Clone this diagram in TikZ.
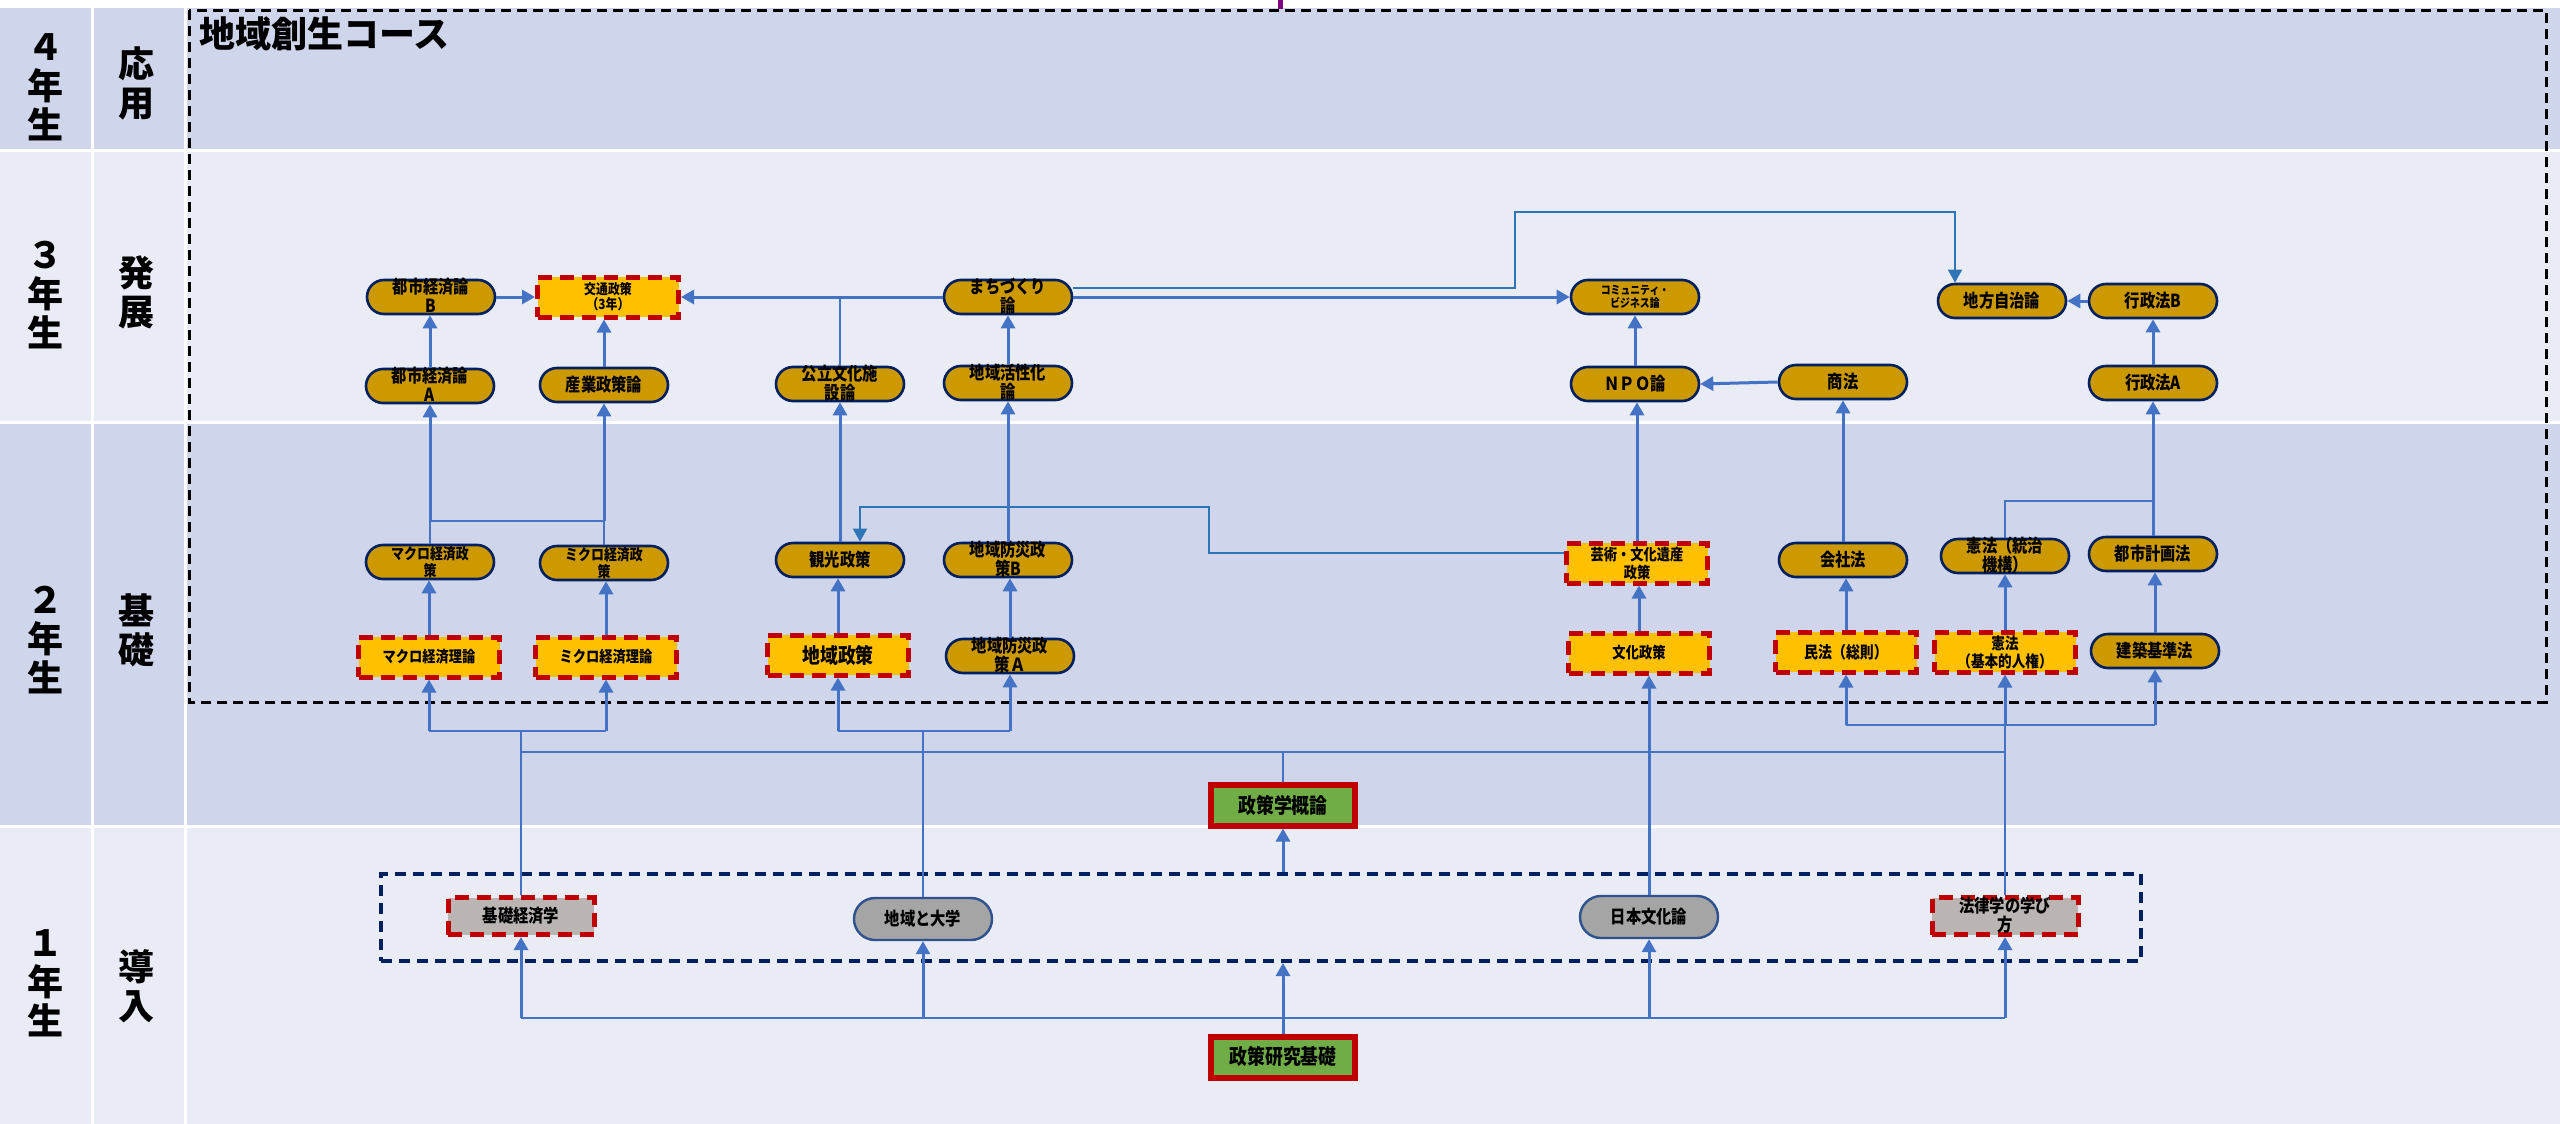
\documentclass[tikz,border=0pt]{standalone}
\usepackage{fontspec}
\usetikzlibrary{arrows.meta}
\newfontfamily\jp{Noto Sans CJK JP}[FakeStretch=0.85]
\newfontfamily\jph{Noto Sans CJK JP}
\newcommand\jpsize[2]{\jp\bfseries\fontsize{#1}{#2}\selectfont}
\definecolor{rowdark}{HTML}{CFD5EA}
\definecolor{rowlight}{HTML}{E9EBF5}
\definecolor{coursegold}{HTML}{CC9900}
\definecolor{navy}{HTML}{002060}
\definecolor{yel}{HTML}{FFC000}
\definecolor{dred}{HTML}{C00000}
\definecolor{lblue}{HTML}{4472C4}
\definecolor{mblue}{HTML}{2E75B6}
\definecolor{grayA}{HTML}{A5A5A5}
\definecolor{grayB}{HTML}{BAB4B2}
\definecolor{pilledge}{HTML}{2F528F}
\definecolor{leaf}{HTML}{70AD47}
\tikzset{
  yearlbl/.style={align=center, inner sep=0pt, font=\jph\bfseries\fontsize{18}{19.5}\selectfont},
  pill/.style={draw=navy, line width=1.3pt, fill=coursegold, rounded corners=8.5pt,
    minimum width=64pt, minimum height=17pt, inner sep=0pt, align=center, font=\jpsize{9}{9.5}},
  must/.style={draw=dred, line width=2.5pt, dash pattern=on 7pt off 4pt, fill=yel,
    minimum width=70.5pt, minimum height=20pt, inner sep=0pt, align=center, font=\jpsize{7.8}{9}},
  mustgray/.style={must, fill=grayB, minimum width=73pt, minimum height=18.5pt, font=\jpsize{9}{9.5}},
  graypill/.style={draw=pilledge, line width=1.2pt, fill=grayA, rounded corners=10.5pt,
    minimum width=69pt, minimum height=21pt, inner sep=0pt, font=\jpsize{9}{9.5}},
  core/.style={draw=dred, line width=3pt, fill=leaf, minimum width=72pt, minimum height=20.5pt,
    inner sep=0pt, font=\jpsize{10.5}{11}},
  dbl/.style={text height=#1, text depth=0pt},
  dbl/.default=15pt,
  arr/.style={draw=lblue, line width=1.5pt, -{Triangle[width=7pt,length=6.5pt]}},
  feed/.style={draw=lblue, line width=0.75pt},
  bus/.style={draw=lblue, line width=1pt},
  link/.style={draw=mblue, line width=0.9pt, -{Triangle[width=7pt,length=6.5pt]}}
}
\begin{document}
\begin{tikzpicture}[x=0.5pt,y=-0.5pt]
\useasboundingbox (0,0) rectangle (2560,1124);
%table
\fill[white] (0,0) rectangle (2560,1124);
\foreach \ya/\yb/\rc in {8/149/rowdark,152/421/rowlight,424/825/rowdark,828/1124/rowlight}{
  \fill[\rc] (0,\ya) rectangle (91,\yb);
  \fill[\rc] (94,\ya) rectangle (184,\yb);
  \fill[\rc] (187,\ya) rectangle (2560,\yb);
}
\node[yearlbl] (y4) at (45,87) {４\\年\\生};
\node[yearlbl] (y3) at (45,295) {３\\年\\生};
\node[yearlbl] (y2) at (45,640) {２\\年\\生};
\node[yearlbl] (y1) at (45,983) {１\\年\\生};
\node[yearlbl] (s4) at (136,83) {応\\用};
\node[yearlbl] (s3) at (136,292) {発\\展};
\node[yearlbl] (s2) at (136,630) {基\\礎};
\node[yearlbl] (s1) at (136,986) {導\\入};
%course frame
\draw[black, line width=1.5pt, dash pattern=on 5pt off 3pt] (189,10) rectangle (2546,702);
\node[anchor=west, inner sep=0pt, font=\jph\bfseries\fontsize{18}{20}\selectfont] (course) at (199,34) {地域創生コース};
\draw[violet, line width=2.5pt] (1280,0) -- (1280,9);
%intro frame
\node[draw=navy, line width=2pt, dash pattern=on 5.5pt off 3.5pt, minimum width=880pt,
  minimum height=43.5pt, inner sep=0pt] (intro) at (1261,917.5) {};

%third year
\node[pill, dbl] (tokB) at (431,297) {都市経済論\\B};
\node[must, dbl=12.5pt, font=\jpsize{7}{7.5}] (koutsu) at (608,297) {交通政策\\（3年）};
\node[pill, dbl] (machi) at (1008,297) {まちづくり\\論};
\node[pill, dbl=10.5pt, font=\jpsize{5.8}{6.5}] (comm) at (1635,297) {コミュニティ・\\ビジネス論};
\node[pill] (chihou) at (2002,301) {地方自治論};
\node[pill] (gyoseiB) at (2153,301) {行政法B};
\node[pill, dbl] (tokA) at (430,386) {都市経済論\\A};
\node[pill] (sangyo) at (604,385) {産業政策論};
\node[pill, dbl] (kouritsu) at (840,384) {公立文化施\\設論};
\node[pill, dbl] (kassei) at (1008,383) {地域活性化\\論};
\node[pill] (npo) at (1635,384) {ＮＰＯ論};
\node[pill] (shouhou) at (1843,382) {商法};
\node[pill] (gyoseiA) at (2153,383) {行政法A};

%second year
\node[pill, dbl=14.2pt, font=\jpsize{7.6}{8.5}] (macroP) at (430,562) {マクロ経済政\\策};
\node[pill, dbl=14.2pt, font=\jpsize{7.6}{8.5}] (microP) at (604,563) {ミクロ経済政\\策};
\node[pill] (kanko) at (840,560) {観光政策};
\node[pill, dbl] (bousaiB) at (1008,560) {地域防災政\\策B};
\node[must, dbl] (geijutsu) at (1637,563) {芸術・文化遺産\\政策};
\node[pill] (kaisha) at (1843,560) {会社法};
\node[pill, dbl] (kenpoT) at (2005,556) {憲法（統治\\機構）};
\node[pill] (toshikei) at (2153,554) {都市計画法};
\node[must] (macroT) at (429,657) {マクロ経済理論};
\node[must] (microT) at (606,657) {ミクロ経済理論};
\node[must, font=\jpsize{10.5}{11}] (chiikiS) at (838,655) {地域政策};
\node[pill, dbl] (bousaiA) at (1010,656) {地域防災政\\策Ａ};
\node[must] (bunka) at (1639,653) {文化政策};
\node[must, font=\jpsize{8.2}{9}] (minpo) at (1846,652) {民法（総則）};
\node[must, dbl, font=\jpsize{8}{9}] (kenpoK) at (2005,652) {憲法\\（基本的人権）};
\node[pill] (kenchiku) at (2155,651) {建築基準法};
\node[core] (gairon) at (1283,805) {政策学概論};

%first year
\node[mustgray] (kiso) at (521,916) {基礎経済学};
\node[graypill] (daigaku) at (923,919) {地域と大学};
\node[graypill] (nihon) at (1649,917) {日本文化論};
\node[mustgray, dbl] (houritsu) at (2005,916) {法律学の学び\\方};
\node[core] (kenkyu) at (1283,1057) {政策研究基礎};

%junctions
\coordinate (low) at (1283,1018);
\coordinate (mid) at (1283,752);
\coordinate (brA) at (521,731);
\coordinate (brB) at (923,731);
\coordinate (brC) at (2005,725);
\coordinate (brD) at (430,521);
\coordinate (kt) at (2153,501);
\coordinate (tk) at (1209,507);
\coordinate (kink) at (1515,212);

%first year links
\draw[arr] (kenkyu.north) -- (kenkyu.north |- intro.south);
\draw[bus] (kiso.south |- low) -- (houritsu.south |- low);
\foreach \n in {kiso,daigaku,nihon,houritsu}
  \draw[arr] (\n.south |- low) -- (\n.south);
\draw[arr] (gairon.south |- intro.north) -- (gairon.south);
\draw[feed] (gairon.north) -- (mid);
\draw[bus] (kiso.north |- mid) -- (houritsu.north |- mid);

%into second year
\draw[feed] (kiso.north) -- (brA);
\draw[bus] (macroT.south |- brA) -- (microT.south |- brA);
\draw[feed] (daigaku.north) -- (brB);
\draw[bus] (chiikiS.south |- brB) -- (bousaiA.south |- brB);
\draw[feed] (houritsu.north) -- (brC);
\draw[bus] (minpo.south |- brC) -- (kenchiku.south |- brC);
\foreach \n/\b in {macroT/brA,microT/brA,chiikiS/brB,bousaiA/brB,minpo/brC,kenpoK/brC,kenchiku/brC}
  \draw[arr] (\n.south |- \b) -- (\n.south);
\draw[arr] (nihon.north) -- (nihon.north |- bunka.south);

%second year
\foreach \a/\b in {macroT/macroP,microT/microP,chiikiS/kanko,bousaiA/bousaiB,bunka/geijutsu,minpo/kaisha,kenpoK/kenpoT,kenchiku/toshikei}
  \draw[arr] (\a.north) -- (\a.north |- \b.south);
\draw[feed] (macroP.north) -- (brD);
\draw[feed] (microP.north) -- (microP.north |- brD);
\draw[bus] (brD) -- (microP.north |- brD);
\draw[arr] (brD) -- (tokA.south);
\draw[arr] (sangyo.south |- brD) -- (sangyo.south);
\draw[feed] (kenpoT.north) |- (kt);
\draw[link] ([yshift=5pt]geijutsu.west) -| (tk) -| ([xshift=10pt]kanko.north);

%third year
\foreach \a/\b in {tokA/tokB,sangyo/koutsu,kanko/kouritsu,bousaiB/kassei,kassei/machi,npo/comm,geijutsu/npo,kaisha/shouhou,toshikei/gyoseiA,gyoseiA/gyoseiB}
  \draw[arr] (\a.north) -- (\a.north |- \b.south);
\draw[arr] (tokB.east) -- (koutsu.west);
\draw[arr] (machi.west) -- (koutsu.east);
\draw[feed] (kouritsu.north) -- (kouritsu.north |- koutsu.east);
\draw[arr] (machi.east) -- (comm.west);
\draw[link] ([yshift=4.5pt]machi.east) -| (kink) -| ([xshift=-23.5pt]chihou.north);
\draw[arr] (shouhou.west) -- (npo.east);
\draw[arr] (gyoseiB.west) -- (chihou.east);
\end{tikzpicture}
\end{document}
